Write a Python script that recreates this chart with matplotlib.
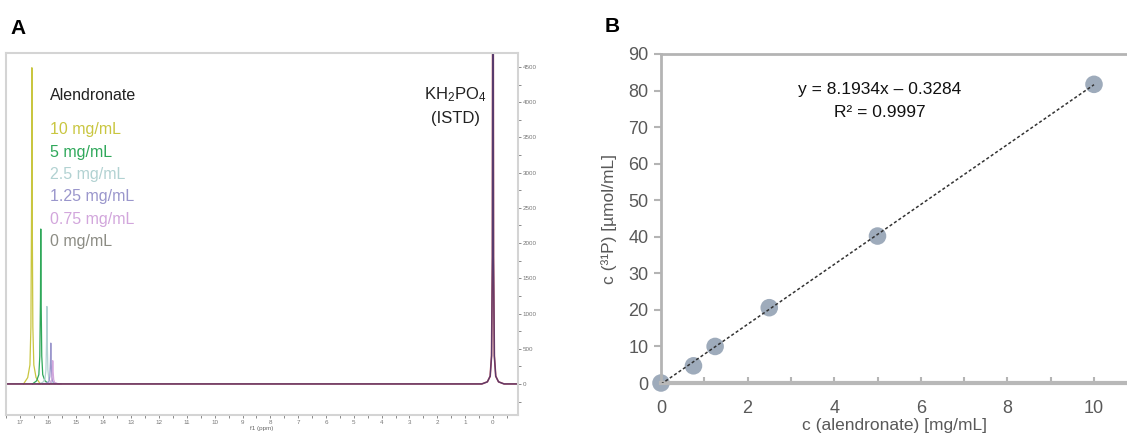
import matplotlib.pyplot as plt
from matplotlib.ticker import MultipleLocator
import numpy as np

plt.rcParams['font.family'] = ['Liberation Sans', 'DejaVu Sans']
plt.rcParams['mathtext.fontset'] = 'custom'
plt.rcParams['mathtext.rm'] = 'Liberation Sans'
plt.rcParams['mathtext.it'] = 'Liberation Sans:italic'

# --- panel A: 31P NMR spectra ---
conc_labels = ['10 mg/mL', '5 mg/mL', '2.5 mg/mL', '1.25 mg/mL', '0.75 mg/mL', '0 mg/mL']
conc_colors = ['#c9c640', '#2fa85a', '#b2d2d2', '#9a96cc', '#d2a6dc', '#8c8c84']
peak_ppm = [16.57, 16.25, 16.03, 15.89, 15.82, 15.82]
peak_height = [4490, 2200, 1100, 580, 330, 0]

# peak shape (offset in ppm, fraction of height)
shape_offset = [-0.30, -0.15, -0.07, -0.035, -0.012, 0.0, 0.012, 0.035, 0.07, 0.15, 0.30]
shape_frac = [0.0, 0.02, 0.06, 0.18, 0.55, 1.0, 0.55, 0.18, 0.06, 0.02, 0.0]

# internal standard KH2PO4 at 0 ppm (runs off the top of the plot)
istd_ppm = [17.5, 0.40, 0.20, 0.10, 0.05, 0.02, 0.0, -0.02, -0.05, -0.10, -0.20, -0.40, -0.9]
istd_int = [0, 0, 30, 110, 400, 1800, 9000, 1800, 400, 110, 30, 0, 0]

# --- panel B: calibration ---
x_conc = [0, 0.75, 1.25, 2.5, 5, 10]
y_p31 = [0, 4.7, 10.0, 20.6, 40.2, 81.7]
slope = 8.1934
intercept = -0.3284

fig = plt.figure(figsize=(11.27, 4.37), dpi=100)
W, H = 1127, 437

# panel A
axA = fig.add_axes([6 / W, 1 - 415 / H, (518 - 6) / W, (415 - 53) / H])
for i in range(len(conc_labels)):
    if peak_height[i] == 0:
        continue
    px = [peak_ppm[i] + o for o in shape_offset]
    py = [peak_height[i] * f for f in shape_frac]
    axA.plot(px, py, color=conc_colors[i], lw=0.9)
axA.plot(istd_ppm, istd_int, color='#b03a48', lw=1.2)
axA.plot(istd_ppm, istd_int, color='#3c3c7a', lw=0.9, alpha=0.75)

axA.set_xlim(17.5, -0.9)
axA.set_ylim(-441, 4699)
axA.yaxis.tick_right()
axA.xaxis.set_minor_locator(MultipleLocator(0.5))
axA.yaxis.set_minor_locator(MultipleLocator(250))
axA.tick_params(axis='both', which='both', labelsize=4.5, colors='#777777', length=2, width=0.6, pad=1.5)
axA.set_xticks(range(0, 18))
axA.set_xticklabels([str(v) for v in range(0, 18)])
axA.set_yticks(range(0, 5000, 500))
axA.set_xlabel('f1 (ppm)', fontsize=4.5, color='#666666', labelpad=1)
for s in axA.spines.values():
    s.set_color('#d4d4d4')
    s.set_linewidth(1.5)

fig.text(50 / W, 1 - 95 / H, 'Alendronate', fontsize=11.5, color='#222222', va='center', ha='left')
for i, lab in enumerate(conc_labels):
    fig.text(50 / W, 1 - (130 + 22.3 * i) / H, lab, fontsize=11.5, color=conc_colors[i],
             va='center', ha='left')
fig.text(455 / W, 1 - 95 / H, 'KH$_2$PO$_4$', fontsize=12, color='#222222', ha='center', va='center')
fig.text(455 / W, 1 - 118 / H, '(ISTD)', fontsize=12, color='#222222', ha='center', va='center')

# panel B
axB = fig.add_axes([661 / W, 1 - 383 / H, (W - 661) / W, (383 - 54) / H])
xf = np.array([0, 10])
axB.plot(xf, slope * xf + intercept, color='#333333', lw=1.1, ls=(0, (2, 1.5)), zorder=3)
axB.scatter(x_conc, y_p31, s=160, color='#9eabbb', edgecolors='none', zorder=2, clip_on=False)
axB.set_xlim(0, (W - 661) / 43.3)
axB.set_ylim(0, 90)
axB.set_xticks([0, 2, 4, 6, 8, 10])
axB.xaxis.set_minor_locator(MultipleLocator(1))
axB.set_yticks(range(0, 100, 10))
axB.tick_params(axis='x', which='both', direction='in', length=4, width=1.5, colors='#b4b4b4',
                labelcolor='#595959', labelsize=13, pad=12)
axB.tick_params(axis='y', which='both', direction='out', length=5, width=1.5, colors='#b4b4b4',
                labelcolor='#595959', labelsize=13, pad=4)
axB.spines['right'].set_visible(False)
axB.spines['left'].set_color('#b4b4b4')
axB.spines['left'].set_linewidth(2)
axB.spines['top'].set_color('#b4b4b4')
axB.spines['top'].set_linewidth(2)
axB.spines['bottom'].set_color('#b8b8b8')
axB.spines['bottom'].set_linewidth(3)
axB.set_xlabel('c (alendronate) [mg/mL]', fontsize=12.5, color='#595959', labelpad=1)
axB.set_ylabel('c (³¹P) [µmol/mL]', fontsize=12.5, color='#595959', labelpad=8)
eq_x = (880 - 661) / 43.3
axB.text(eq_x, 80.3, 'y = 8.1934x – 0.3284', fontsize=12.5, color='#111111',
         ha='center', va='center')
axB.text(eq_x, 74.0, 'R² = 0.9997', fontsize=12.5, color='#111111',
         ha='center', va='center')

fig.text(18 / W, 1 - 29 / H, 'A', fontsize=15, fontweight='bold', ha='center', va='center')
fig.text(612 / W, 1 - 27 / H, 'B', fontsize=15, fontweight='bold', ha='center', va='center')

fig.savefig('out.png', dpi=100)
